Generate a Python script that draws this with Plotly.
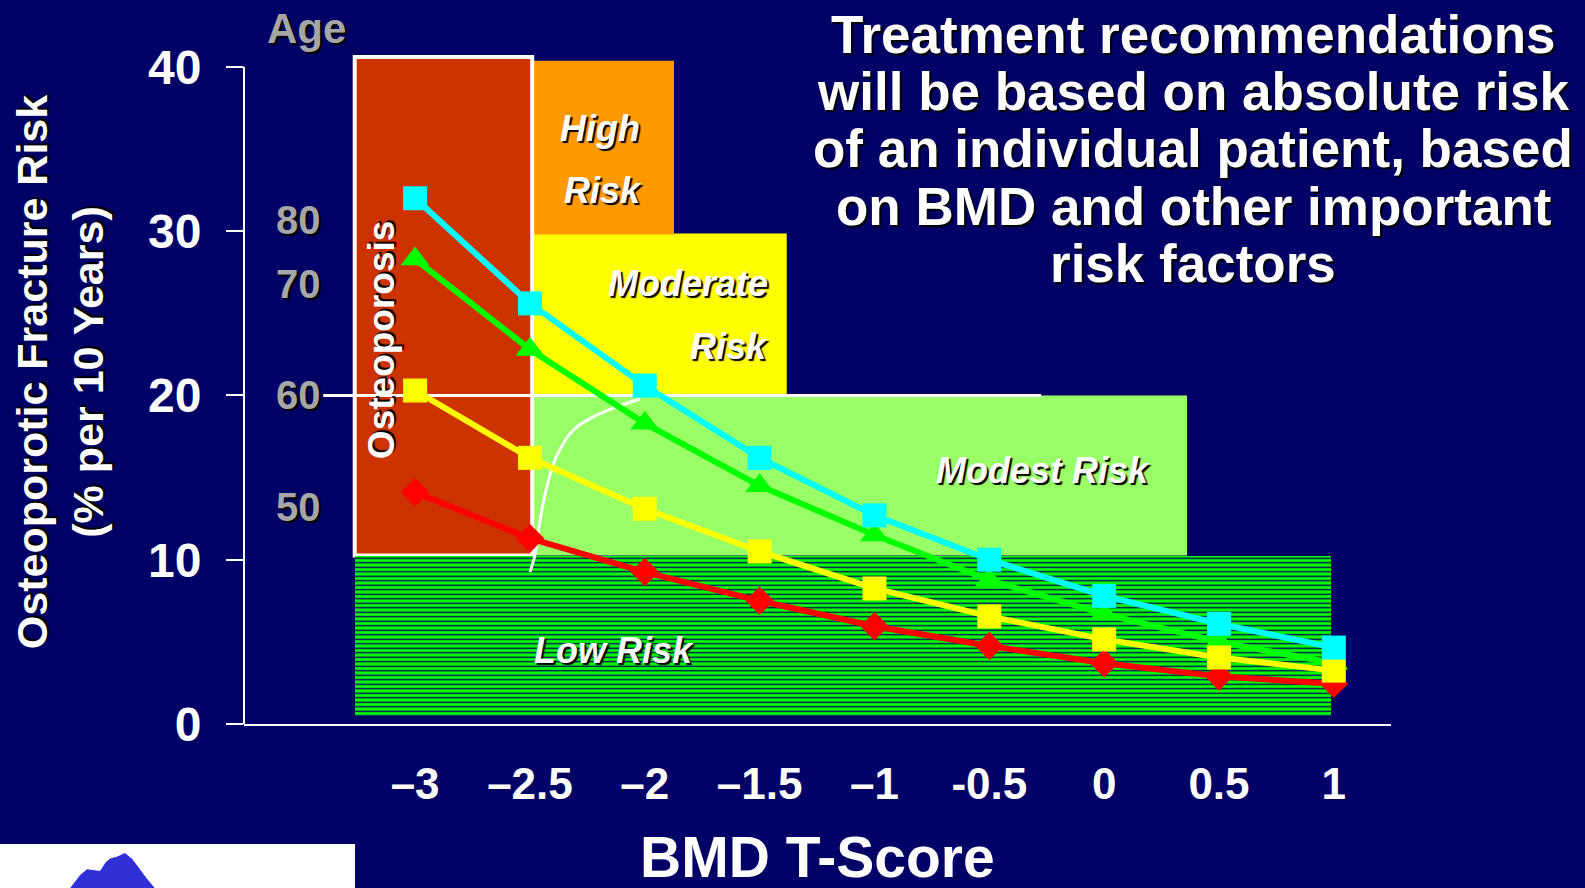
import plotly.graph_objects as go

# ---- data -----------------------------------------------------------------
t_scores = [-3, -2.5, -2, -1.5, -1, -0.5, 0, 0.5, 1]
t_labels = ["\u20133", "\u20132.5", "\u20132", "\u20131.5", "\u20131", "-0.5", "0", "0.5", "1"]

risk_age80 = [32.0, 25.6, 20.6, 16.2, 12.7, 10.0, 7.8, 6.1, 4.65]
risk_age70 = [28.3, 22.8, 18.3, 14.5, 11.5, 8.75, 6.7, 5.0, 3.7]
risk_age60 = [20.3, 16.2, 13.1, 10.5, 8.25, 6.55, 5.15, 4.05, 3.25]
risk_age50 = [14.1, 11.3, 9.25, 7.5, 5.95, 4.75, 3.7, 2.9, 2.45]

y_ticks = [0, 10, 20, 30, 40]

age_labels = ["80", "70", "60", "50"]
age_y = [30.7, 26.8, 20.0, 13.2]

# risk zones (T-score / risk extents)
low_x = [-3.262, 0.987]
low_y = [0.49, 10.25]
osteo_x = [-3.263, -2.49]
osteo_y = [10.25, 40.6]
high_x = [-2.49, -1.873]
high_y = [29.8, 40.37]
moderate_x = [-2.49, -1.382]
moderate_y = [20.0, 29.85]
modest_x = [-2.49, 0.361]
modest_y = [10.25, 20.0]
threshold_y = 20
threshold_x = [-3.40, -0.274]

# intervention threshold curve
curve_x = [-2.50, -2.478, -2.456, -2.427, -2.384, -2.311, -2.224, -2.122, -2.02]
curve_y = [9.25, 10.3, 12.4, 14.4, 16.3, 17.9, 18.7, 19.3, 19.8]

# ---- layout geometry -------------------------------------------------------
W, H = 1585, 888
ML, MR, MT, MB = 244, 194.3, 33.85, 164.3
PW, PH = W - ML - MR, H - MT - MB


def px(x):
    return (x - ML) / PW


def py(y):
    return (H - MB - y) / PH


BG = "#000066"
FONT = "Liberation Sans, Arial, sans-serif"
SHADOW = "2px 2px 1px #000000"

fig = go.Figure()

# hatched low-risk band
fig.add_trace(go.Bar(
    x=[(low_x[0] + low_x[1]) / 2], y=[low_y[1] - low_y[0]], base=[low_y[0]],
    width=[low_x[1] - low_x[0]],
    marker=dict(color="#00FF00", line=dict(width=0),
                pattern=dict(shape="-", fgcolor=BG, bgcolor="#00FF00",
                             size=4.5, solidity=0.3, fgopacity=1)),
    hoverinfo="skip", showlegend=False,
))

# threshold curve
fig.add_trace(go.Scatter(
    x=curve_x, y=curve_y, mode="lines",
    line=dict(color="white", width=3, shape="spline"),
    hoverinfo="skip", showlegend=False,
))

series = [
    (risk_age50, "#FF0000", "diamond", 22),
    (risk_age70, "#00FF00", "triangle-up", 25),
    (risk_age60, "#FFFF00", "square", 24),
    (risk_age80, "#00FFFF", "square", 24),
]
for vals, col, sym, sz in series:
    fig.add_trace(go.Scatter(
        x=t_scores, y=vals, mode="lines+markers",
        line=dict(color=col, width=6),
        marker=dict(color=col, symbol=sym, size=sz, line=dict(width=0)),
        showlegend=False,
    ))

shapes = []


def rect(xs, ys, fill, line=None):
    shapes.append(dict(type="rect", xref="x", yref="y", layer="below",
                       x0=xs[0], x1=xs[1], y0=ys[0], y1=ys[1],
                       fillcolor=fill,
                       line=line or dict(width=0)))


rect(modest_x, modest_y, "#99FF66")
rect(moderate_x, moderate_y, "#FFFF00")
rect(high_x, high_y, "#FF9900")
rect(osteo_x, osteo_y, "#CC3300", dict(color="white", width=4))

shapes.append(dict(type="line", xref="x", yref="y", layer="below",
                   x0=threshold_x[0], x1=threshold_x[1],
                   y0=threshold_y, y1=threshold_y,
                   line=dict(color="white", width=3)))

# vertical axis line up to the top tick
shapes.append(dict(type="line", xref="paper", yref="y", layer="above",
                   x0=0, x1=0, y0=0, y1=max(y_ticks),
                   line=dict(color="white", width=2)))

# logo panel in the lower-left corner
shapes.append(dict(type="rect", xref="paper", yref="paper", layer="above",
                   x0=px(0), x1=px(355), y0=py(888), y1=py(843.7),
                   fillcolor="white", line=dict(width=0)))
mountain = [(70, 888), (80, 875), (87, 869), (100, 870.7), (106, 861.7),
            (110, 858.3), (118, 856), (125, 852.7), (132, 858.3),
            (137, 865), (147, 878.3), (155, 888)]
path = "M " + " L ".join(f"{px(a):.5f},{py(b):.5f}" for a, b in mountain) + " Z"
shapes.append(dict(type="path", xref="paper", yref="paper", layer="above",
                   path=path, fillcolor="#3030D8", line=dict(width=0)))

annotations = []


def note(text, x, y, size, color="white", bold=True, italic=False,
         xanchor="center", yanchor="middle", xref="x", yref="y", angle=0,
         shadow=SHADOW):
    t = text
    if italic:
        t = f"<i>{t}</i>"
    if bold:
        t = f"<b>{t}</b>"
    annotations.append(dict(
        text=t, x=x, y=y, xref=xref, yref=yref, showarrow=False,
        xanchor=xanchor, yanchor=yanchor, textangle=angle,
        font=dict(family=FONT, size=size, color=color, shadow=shadow),
    ))


# zone labels
note("High", -2.193, 36.24, 36, italic=True)
note("Risk", -2.184, 32.49, 36, italic=True)
note("Moderate", -1.455, 26.83, 36, italic=True, xanchor="right")
note("Risk", -1.455, 23.0, 36, italic=True, xanchor="right")
note("Modest Risk", -0.266, 15.45, 36, italic=True)
note("Low Risk", -2.135, 4.49, 36, italic=True)
note("Osteoporosis", -3.149, 23.42, 37, angle=-90)

# age labels
note("Age", px(306), py(28), 42, color="#A6A6A6", xref="paper", yref="paper")
for lab, yv in zip(age_labels, age_y):
    note(lab, px(298), yv, 40, color="#A6A6A6", xref="paper")

# headline
headline = ["Treatment recommendations", "will be based on absolute risk",
            "of an individual patient, based", "on BMD and other important",
            "risk factors"]
for i, line in enumerate(headline):
    note(line, px(1193), py(34 + 57.4 * i), 53, xref="paper", yref="paper")

# axis titles
note("Osteoporotic Fracture Risk<br>(% per 10 Years)", px(60), py(372), 43,
     xref="paper", yref="paper", angle=-90)
note("BMD T-Score", px(817), py(891), 57, xref="paper", yref="paper",
     yanchor="bottom", shadow="none")

fig.update_layout(
    width=W, height=H,
    margin=dict(l=ML, r=MR, t=MT, b=MB),
    paper_bgcolor=BG, plot_bgcolor=BG,
    shapes=shapes, annotations=annotations,
    showlegend=False, bargap=0,
    xaxis=dict(range=[-3.745, 1.249], showgrid=False, zeroline=False,
               showline=True, linecolor="white", linewidth=2,
               ticks="", tickvals=t_scores, ticktext=t_labels,
               tickfont=dict(family=FONT, size=44, color="white", weight="bold"),
               ticklabelstandoff=20, fixedrange=True),
    yaxis=dict(range=[0, 42], showgrid=False, zeroline=False, showline=False,
               ticks="outside", ticklen=17, tickwidth=2, tickcolor="white",
               tickvals=y_ticks,
               tickfont=dict(family=FONT, size=48, color="white", weight="bold"),
               ticklabelstandoff=15, fixedrange=True),
)

fig.write_html("out.html")
